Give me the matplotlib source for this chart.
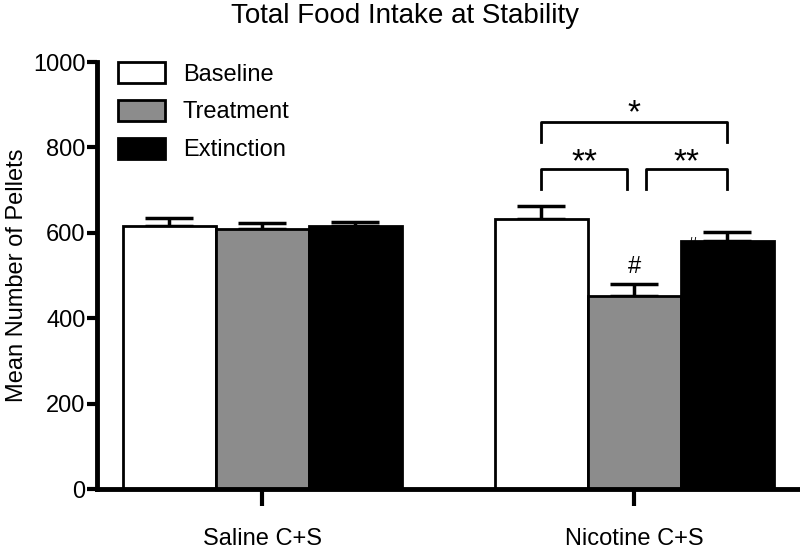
import matplotlib.pyplot as plt
import numpy as np

plt.rcParams['font.family'] = ['Liberation Sans', 'DejaVu Sans']

groups = ['Saline C+S', 'Nicotine C+S']
conditions = ['Baseline', 'Treatment', 'Extinction']
colours = ['white', '#8c8c8c', 'black']
means = {
    'Baseline': [617, 632],
    'Treatment': [609, 452],
    'Extinction': [615, 581],
}
sems = {
    'Baseline': [19, 31],
    'Treatment': [15, 29],
    'Extinction': [10, 20],
}

fig = plt.figure(figsize=(8, 5.49), dpi=100)
ax = fig.add_axes([0.121, 0.109, 0.879, 0.778])

x = np.arange(len(groups))
width = 0.25
for i, cond in enumerate(conditions):
    pos = x + (i - 1) * width
    m = np.array(means[cond])
    s = np.array(sems[cond])
    ax.bar(pos, m, width, color=colours[i], edgecolor='black', linewidth=2,
           label=cond, zorder=2)
    ax.errorbar(pos, m, yerr=[np.zeros_like(s), s], fmt='none', ecolor='black',
                elinewidth=2.5, capsize=17, capthick=2.5, zorder=1)

# significance brackets
def bracket(x0, x1, y, yb, txt, off):
    ax.plot([x0, x0, x1, x1], [yb, y, y, yb], color='black', lw=2, zorder=3)
    ax.text((x0 + x1) / 2, y + off, txt, ha='center', va='center', fontsize=24)

bracket(0.75, 1.25, 860, 813, '*', 20)
bracket(0.75, 0.98, 749, 703, '**', 15)
bracket(1.03, 1.25, 749, 703, '**', 15)
ax.text(1.0, 520, '#', ha='center', va='center', fontsize=17)
ax.text(1.155, 555, '#', ha='center', va='bottom', fontsize=12, zorder=1)

ax.set_xlim(-0.445, 1.445)
ax.set_ylim(0, 1000)
ax.set_yticks([0, 200, 400, 600, 800, 1000])
ax.set_xticks(x)
ax.set_xticklabels(groups, fontsize=17)
ax.tick_params(axis='y', labelsize=17, width=3, length=7, pad=1)
ax.tick_params(axis='x', width=3, length=12, pad=16)
ax.set_ylabel('Mean Number of Pellets', fontsize=17, labelpad=4)
fig.text(0.506, 0.97, 'Total Food Intake at Stability', ha='center', va='center', fontsize=20)

for side in ['top', 'right']:
    ax.spines[side].set_visible(False)
ax.spines['left'].set_linewidth(3.5)
ax.spines['bottom'].set_linewidth(3.5)

ax.legend(loc='upper left', fontsize=17, frameon=False, handlelength=2.0,
          handleheight=1.0, labelspacing=0.6, handletextpad=0.75,
          bbox_to_anchor=(0.0, 1.05))

fig.savefig('out.png', dpi=100)
